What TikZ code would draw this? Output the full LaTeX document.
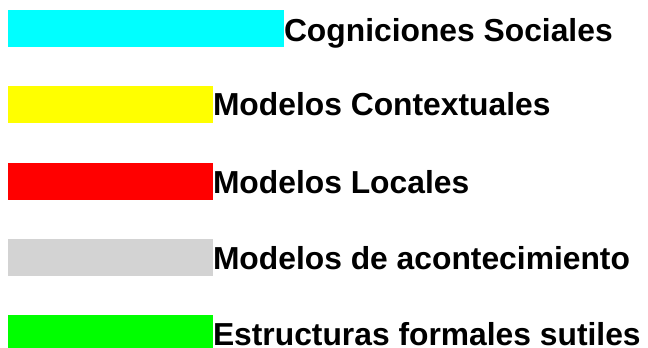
\documentclass[tikz,border=0pt]{standalone}
\usepackage{fontspec}
\setmainfont{Liberation Sans}
\definecolor{cCyan}{RGB}{0,255,255}
\definecolor{cYellow}{RGB}{255,255,0}
\definecolor{cRed}{RGB}{255,0,0}
\definecolor{cGray}{RGB}{211,211,211}
\definecolor{cGreen}{RGB}{0,255,0}
\tikzset{
  bar/.style={draw=none, inner sep=0pt, outer sep=0pt, anchor=north west, minimum height=37pt},
  lbl/.style={inner sep=0pt, outer sep=0pt, anchor=base west, text depth=0pt, font=\bfseries\fontsize{31.8}{38}\selectfont, text=black}
}
\begin{document}
\begin{tikzpicture}[x=1pt,y=-1pt]
\useasboundingbox (0,0) rectangle (648,348);
\node[bar, fill=cCyan, minimum width=276pt] (b1) at (8,10) {};
\node[bar, fill=cYellow, minimum width=205pt] (b2) at (8,86) {};
\node[bar, fill=cRed, minimum width=205pt] (b3) at (8,163) {};
\node[bar, fill=cGray, minimum width=205pt] (b4) at (8,239) {};
\node[bar, fill=cGreen, minimum width=205pt, minimum height=33pt] (b5) at (8,315) {};
\node[lbl] (t1) at (284,41.5) {Cogniciones Sociales};
\node[lbl] (t2) at (213,115) {Modelos Contextuales};
\node[lbl] (t3) at (213,193) {Modelos Locales};
\node[lbl] (t4) at (213,269) {Modelos de acontecimiento};
\node[lbl] (t5) at (213,345) {Estructuras formales sutiles};
\end{tikzpicture}
\end{document}
